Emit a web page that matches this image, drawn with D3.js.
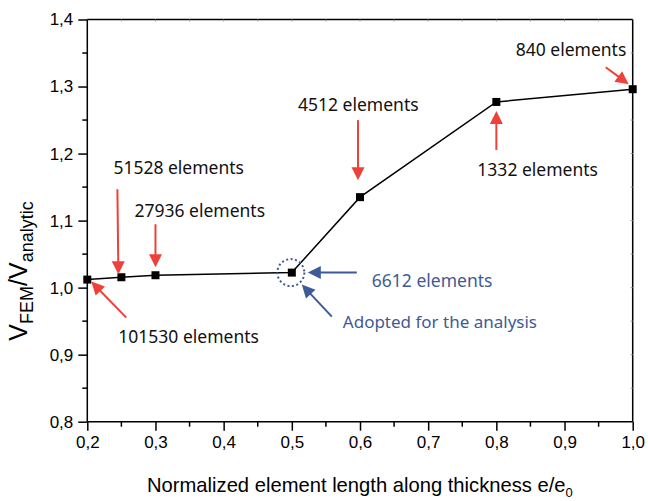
<!DOCTYPE html>
<html>
<head>
<meta charset="utf-8">
<script src="https://d3js.org/d3.v7.min.js"></script>
<style>
  body { margin: 0; background: #fff; }
  text { font-family: "Liberation Sans", Arial, sans-serif; }
  .note { font-family: "Noto Sans", "Open Sans", sans-serif; }
</style>
</head>
<body>
<div id="chart"></div>
<script>
// *** Data
var lengths  = [0.2, 0.25, 0.3, 0.5, 0.6, 0.8, 1.0];
var ratios   = [1.012, 1.0155, 1.0185, 1.0224, 1.135, 1.277, 1.296];
var elements = [101530, 51528, 27936, 6612, 4512, 1332, 840];
var xTicks = [0.2, 0.3, 0.4, 0.5, 0.6, 0.7, 0.8, 0.9, 1.0];
var yTicks = [0.8, 0.9, 1.0, 1.1, 1.2, 1.3, 1.4];
var adoptedIndex = 3;

var W = 648, H = 501;
var margin = {top: 19.5, right: 15.3, bottom: 79.3, left: 87.3},
    width = W - margin.left - margin.right,
    height = H - margin.top - margin.bottom;

var fmt = function(d) { return d3.format(".1f")(d).replace(".", ","); };

var x = d3.scaleLinear().domain([0.2, 1.0]).range([0, width]);
var y = d3.scaleLinear().domain([0.8, 1.4]).range([height, 0]);

var svg = d3.select("#chart").append("svg")
    .attr("width", W).attr("height", H);

var g = svg.append("g")
    .attr("transform", "translate(" + margin.left + "," + margin.top + ")");

// frame (top and right)
g.append("line").attr("x1", 0).attr("x2", width).attr("y1", 0).attr("y2", 0)
    .attr("stroke", "#000").attr("stroke-width", 1.5);
g.append("line").attr("x1", width).attr("x2", width).attr("y1", 0).attr("y2", height)
    .attr("stroke", "#000").attr("stroke-width", 1.5);

// small inside ticks on top / right
var minorX = d3.range(0.25, 1.0, 0.05);
g.selectAll(".ttick").data(minorX).enter().append("line")
    .attr("x1", function(d) { return x(d); }).attr("x2", function(d) { return x(d); })
    .attr("y1", 0).attr("y2", 2).attr("stroke", "#999").attr("stroke-width", 1);
var minorY = d3.range(0.85, 1.4, 0.05);
g.selectAll(".rtick").data(minorY).enter().append("line")
    .attr("y1", function(d) { return y(d); }).attr("y2", function(d) { return y(d); })
    .attr("x1", width - 2).attr("x2", width).attr("stroke", "#999").attr("stroke-width", 1);

// x axis
var xAxis = d3.axisBottom(x).tickValues(xTicks).tickFormat(fmt).tickSize(9).tickPadding(5);
var gx = g.append("g").attr("transform", "translate(0," + height + ")").call(xAxis);
gx.selectAll(".x-minor").data(d3.range(0.25, 1.0, 0.1)).enter().append("line")
    .attr("x1", function(d) { return x(d); }).attr("x2", function(d) { return x(d); })
    .attr("y1", 0).attr("y2", 5).attr("stroke", "#000").attr("stroke-width", 1.5);

// y axis
var yAxis = d3.axisLeft(y).tickValues(yTicks).tickFormat(fmt).tickSize(9).tickPadding(5);
var gy = g.append("g").call(yAxis);
gy.selectAll(".y-minor").data(d3.range(0.85, 1.4, 0.1)).enter().append("line")
    .attr("y1", function(d) { return y(d); }).attr("y2", function(d) { return y(d); })
    .attr("x1", 0).attr("x2", -5).attr("stroke", "#000").attr("stroke-width", 1.5);

[gx, gy].forEach(function(a) {
    a.select(".domain").attr("stroke-width", 1.5);
    a.selectAll(".tick line").attr("stroke-width", 1.5);
    a.selectAll("text").attr("font-size", 17).attr("font-family", "Liberation Sans, Arial, sans-serif").attr("fill", "#000");
});
gx.select(".domain").attr("d", "M0,0H" + width);
gy.select(".domain").attr("d", "M0," + height + "V0");

// axis titles
var xt = svg.append("text")
    .attr("x", 147).attr("y", 492)
    .attr("font-size", 20.2);
xt.append("tspan").text("Normalized element length along thickness e/e");
xt.append("tspan").attr("font-size", 13).attr("dy", 5).text("0");

var yt = svg.append("text")
    .attr("transform", "translate(27,271) rotate(-90)")
    .attr("text-anchor", "middle")
    .attr("font-size", 25);
yt.append("tspan").text("V");
yt.append("tspan").attr("font-size", 18).attr("dy", 6).text("FEM");
yt.append("tspan").attr("dy", -6).text("/V");
yt.append("tspan").attr("font-size", 18).attr("dy", 6).text("analytic");

// line + markers
var pts = lengths.map(function(d, i) { return {x: d, y: ratios[i], n: elements[i]}; });

g.append("path").datum(pts)
    .attr("fill", "none").attr("stroke", "#000").attr("stroke-width", 1.5)
    .attr("d", d3.line().x(function(d) { return x(d.x); }).y(function(d) { return y(d.y); }));

g.selectAll(".pt").data(pts).enter().append("rect")
    .attr("x", function(d) { return x(d.x) - 4; })
    .attr("y", function(d) { return y(d.y) - 4; })
    .attr("width", 8).attr("height", 8).attr("fill", "#000");

// *** annotations: offsets (px) relative to each point
var RED = "#f0403a", BLUE = "#3f5a96";
var notes = [
    {tail: [39, 38],  tip: [4, 2],   text: [31, 63]},
    {tail: [-4, -88], tip: [-3, -3], text: [-8, -103]},
    {tail: [0, -51],  tip: [0, -8],  text: [-21, -58]},
    {tail: [65, 0],   tip: [16, 0],  text: [80, 14]},
    {tail: [-2, -77], tip: [-2, -17], text: [-62, -86]},
    {tail: [0, 48],   tip: [0, 9],   text: [-19, 74]},
    {tail: [-27, -22], tip: [-4, -5], text: [-117, -33]}
];

function arrow(x1, y1, x2, y2, col) {
    var dx = x2 - x1, dy = y2 - y1, L = Math.sqrt(dx * dx + dy * dy);
    var ux = dx / L, uy = dy / L, hl = 13, hw = 6.5;
    var bx = x2 - ux * hl, by = y2 - uy * hl;
    g.append("line").attr("x1", x1).attr("y1", y1).attr("x2", bx + ux * 2).attr("y2", by + uy * 2)
        .attr("stroke", col).attr("stroke-width", 2);
    g.append("path")
        .attr("d", "M" + x2 + "," + y2 + "L" + (bx - uy * hw) + "," + (by + ux * hw) +
            "L" + (bx + uy * hw) + "," + (by - ux * hw) + "Z")
        .attr("fill", col);
}

pts.forEach(function(d, i) {
    var px = x(d.x), py = y(d.y), a = notes[i];
    var col = i === adoptedIndex ? BLUE : RED;
    arrow(px + a.tail[0], py + a.tail[1], px + a.tip[0], py + a.tip[1], col);
    g.append("text").attr("class", "note")
        .attr("x", px + a.text[0]).attr("y", py + a.text[1])
        .attr("font-size", 17.5)
        .attr("fill", i === adoptedIndex ? BLUE : "#111")
        .text(d.n + " elements");
});

// adopted point: dotted circle and second note
var ad = pts[adoptedIndex], ax = x(ad.x), ay = y(ad.y);
g.append("circle").attr("cx", ax - 1).attr("cy", ay)
    .attr("r", 13.5).attr("fill", "none").attr("stroke", BLUE)
    .attr("stroke-width", 2).attr("stroke-dasharray", "2,2.5");
arrow(ax + 40, ay + 44, ax + 10, ay + 12, BLUE);
g.append("text").attr("class", "note")
    .attr("x", ax + 51).attr("y", ay + 55)
    .attr("font-size", 17).attr("fill", BLUE)
    .text("Adopted for the analysis");
</script>
</body>
</html>
